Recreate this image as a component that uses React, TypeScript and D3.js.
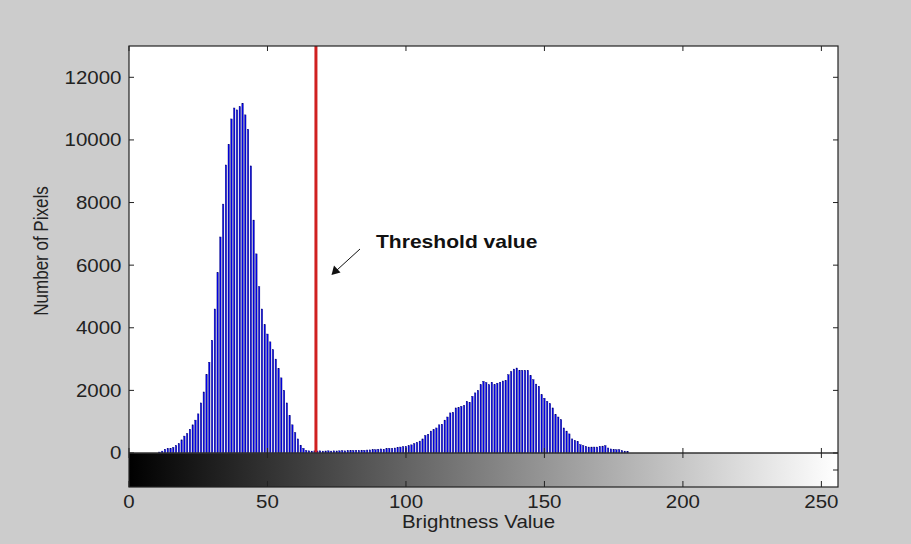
import * as React from 'react';
import * as d3 from 'd3';

// histogram counts, one per brightness level 0..255
const counts: number[] = [
  0, 0, 0, 0, 0, 0, 0, 0, 0, 0,
  0, 30, 60, 120, 150, 150, 180, 240, 300, 420,
  540, 620, 760, 900, 1050, 1250, 1600, 1950, 2500, 2900,
  3600, 4600, 5760, 6900, 7950, 9200, 9860, 10670, 11020, 10960,
  11060, 11170, 10800, 10340, 9170, 7440, 6360, 5310, 4600, 4100,
  3800, 3550, 3300, 3000, 2700, 2400, 2000, 1600, 1200, 900,
  650, 450, 250, 150, 80, 70, 60, 70, 65, 70,
  60, 65, 70, 60, 70, 65, 70, 75, 70, 80,
  75, 80, 85, 80, 90, 85, 95, 100, 110, 105,
  120, 130, 120, 140, 150, 145, 160, 180, 190, 200,
  210, 230, 260, 300, 340, 380, 450, 560, 600, 700,
  750, 800, 900, 920, 1050, 1150, 1280, 1300, 1440, 1450,
  1490, 1520, 1650, 1620, 1810, 1920, 2000, 2180, 2290, 2250,
  2180, 2260, 2180, 2230, 2260, 2300, 2320, 2500, 2600, 2680,
  2715, 2640, 2640, 2640, 2640, 2470, 2340, 2200, 2130, 1860,
  1750, 1650, 1580, 1440, 1225, 1150, 1065, 800, 700, 610,
  450, 400, 370, 265, 235, 210, 190, 190, 190, 190,
  210, 220, 235, 160, 130, 120, 105, 105, 75, 60,
  50, 0, 0, 0, 0, 0, 0, 0, 0, 0,
  0, 0, 0, 0, 0, 0, 0, 0, 0, 0,
  0, 0, 0, 0, 0, 0, 0, 0, 0, 0,
  0, 0, 0, 0, 0, 0, 0, 0, 0, 0,
  0, 0, 0, 0, 0, 0, 0, 0, 0, 0,
  0, 0, 0, 0, 0, 0, 0, 0, 0, 0,
  0, 0, 0, 0, 0, 0, 0, 0, 0, 0,
  0, 0, 0, 0, 0, 0,
];

const xTicks = [0, 50, 100, 150, 200, 250];
const yTicks = [0, 2000, 4000, 6000, 8000, 10000, 12000];
const threshold = 67.5;
const xLabel = 'Brightness Value';
const yLabel = 'Number of Pixels';
const note = 'Threshold value';

const W = 911;
const H = 544;
const left = 129;
const right = 838;
const top = 46;
const bottom = 487;
const sx = 1.17; // the screenshot is stretched sideways, so is the text

const App = () => {
  const x = d3.scaleLinear().domain([0, 256]).range([left, right]);
  const y = d3.scaleLinear().domain([-1086, 13000]).range([bottom, top]);
  const y0 = y(0);
  const barW = 1.4;
  const font = 'Liberation Sans, Arial, sans-serif';

  return (
    <svg width={W} height={H} style={{ position: 'absolute', left: 0, top: 0 }}>
      <defs>
        <linearGradient id="gray-bar" x1="0%" y1="0%" x2="100%" y2="0%">
          <stop offset="0%" stopColor="#000" />
          <stop offset="100%" stopColor="#fff" />
        </linearGradient>
      </defs>
      <rect x={0} y={0} width={W} height={H} fill="#cccccc" />
      <rect x={left} y={top} width={right - left} height={y0 - top} fill="#fff" />
      <rect x={left} y={y0} width={right - left} height={bottom - y0} fill="url(#gray-bar)" />

      {counts.map((c, i) =>
        c > 0 ? (
          <rect key={i} x={x(i) - barW / 2} y={y(c)} width={barW} height={y0 - y(c)}
            fill="#0000f0" stroke="#000070" strokeWidth={0.4} />
        ) : null
      )}

      <line x1={x(threshold)} x2={x(threshold)} y1={top} y2={y0} stroke="#d02020" strokeWidth={3} />

      {/* frame and axis */}
      <rect x={left} y={top} width={right - left} height={bottom - top} fill="none" stroke="#222" strokeWidth={1.2} />
      <line x1={left} x2={right} y1={y0} y2={y0} stroke="#333" strokeWidth={1.5} />

      {yTicks.map((t) => (
        <g key={t}>
          <line x1={left} x2={left + 5} y1={y(t)} y2={y(t)} stroke="#222" />
          <line x1={right - 5} x2={right} y1={y(t)} y2={y(t)} stroke="#222" />
          <text transform={`translate(121.5,${y(t) + 6.5}) scale(${sx},1)`} textAnchor="end"
            fontFamily={font} fontSize={17.5} fill="#222">{t}</text>
        </g>
      ))}
      <line x1={right - 5} x2={right} y1={470} y2={470} stroke="#222" />

      {xTicks.map((t) => (
        <g key={t}>
          <line x1={x(t)} x2={x(t)} y1={top} y2={top + 5} stroke="#222" />
          <line x1={x(t)} x2={x(t)} y1={y0 - 5} y2={y0 + 5} stroke="#222" />
          <line x1={x(t)} x2={x(t)} y1={bottom - 6} y2={bottom} stroke="#222" />
          <text transform={`translate(${x(t)},507.5) scale(${sx},1)`} textAnchor="middle"
            fontFamily={font} fontSize={17.5} fill="#222">{t}</text>
        </g>
      ))}

      <text transform={`translate(${(left + right) / 2 - 5},527.5) scale(${sx},1)`} textAnchor="middle"
        fontFamily={font} fontSize={17.5} fill="#222">{xLabel}</text>
      <text transform={`translate(48,251) scale(${sx},1) rotate(-90)`} textAnchor="middle"
        fontFamily={font} fontSize={17} fill="#222">{yLabel}</text>

      {/* annotation */}
      <text transform={`translate(376,247.5) scale(${sx},1)`} fontFamily={font} fontWeight="bold"
        fontSize={18} fill="#111">{note}</text>
      <line x1={360} y1={249} x2={337} y2={270} stroke="#111" strokeWidth={1} />
      <path d="M331.5,275 L334,265.5 L340.5,272.5 Z" fill="#111" />
    </svg>
  );
};

export default App;
